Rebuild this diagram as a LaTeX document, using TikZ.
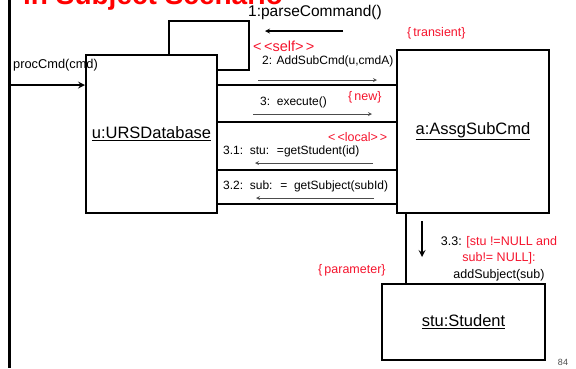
\documentclass[tikz,border=0pt]{standalone}
\usepackage{fontspec}
\setmainfont{Liberation Sans}
\usetikzlibrary{arrows, positioning}
\definecolor{notered}{RGB}{245,20,45}
\tikzstyle{object} = [rectangle, draw=black, line width=2pt, fill=white, inner sep=0pt, font=\fontsize{16.5}{18}\selectfont]
\tikzstyle{link} = [line width=2pt]
\tikzstyle{msg} = [->,>=stealth, draw=black!70, line width=0.8pt]
\tikzstyle{msgtext} = [anchor=west, inner sep=0pt, font=\fontsize{12}{14}\selectfont]
\tikzstyle{note} = [msgtext, text=notered, font=\fontsize{12.5}{14}\selectfont]

\begin{document}
\begin{tikzpicture}[x=1pt, y=-1pt]
    \useasboundingbox (0,0) rectangle (576,368);
    % slide title, cut off at the top
    \node (title) [anchor=base west, inner sep=0pt, text=red, font=\fontsize{28}{30}\bfseries\selectfont] at (23,4) {in Subject Scenario};

    \node (db) [object, minimum width=131pt, minimum height=158pt] at (151.5,134) {\underline{u:URSDatabase}};
    \node (cmd) [object, minimum width=152pt, minimum height=163pt] at (473,131.5) {\underline{a:AssgSubCmd}};
    \node (stu) [object, minimum width=163pt, minimum height=76pt] at (463.5,322) {\underline{stu:Student}};

    % frame of the interaction
    \coordinate (ftop) at (9,0);
    \coordinate (fbot) at (9,368);
    \coordinate (in) at (9,85);
    \draw [line width=3pt] (ftop) -- (fbot);
    \draw [link,->,>=stealth] (in) -- (db.west |- in);
    \node (proc) [msgtext, font=\fontsize{12.8}{15}\selectfont] at (13,65) {procCmd(cmd)};

    % links
    \coordinate (l1) at (0,85);
    \coordinate (l2) at (0,122);
    \coordinate (l3) at (0,170);
    \coordinate (l4) at (0,204);
    \coordinate (l5) at (406,0);
    \coordinate (selftop) at (249,21);
    \coordinate (selfbot) at (0,70);
    \draw [link] ([xshift=84pt]db.north west) |- (selftop) |- (db.east |- selfbot);
    \draw [link] (db.east |- l1) -- (cmd.west |- l1);
    \draw [link] (db.east |- l2) -- (cmd.west |- l2);
    \draw [link] (db.east |- l3) -- (cmd.west |- l3);
    \draw [link] (db.east |- l4) -- (cmd.west |- l4);
    \draw [link] (cmd.south -| l5) -- (stu.north -| l5);

    % messages
    \node (m1) [msgtext, font=\fontsize{15.5}{17}\selectfont] at (248,12) {1:parseCommand()};
    \node (m2) [msgtext] at (262,61.5) {2: AddSubCmd(u,cmdA)};
    \node (m3) [msgtext] at (260,102) {3:\ \ execute()};
    \node (m31) [msgtext] at (223,151) {3.1:\ \ stu: \ =getStudent(id)};
    \node (m32) [msgtext] at (223,186) {3.2:\ \ sub: \ =\ \ getSubject(subId)};
    \node (m33) [inner sep=0pt, align=center, font=\fontsize{12.5}{16.5}\selectfont] at (499,258.5)
        {3.3: \textcolor{notered}{[stu !=NULL and}\\ \textcolor{notered}{sub!= NULL]:}\\ addSubject(sub)};

    \coordinate (a1s) at (343,31);  \coordinate (a1e) at (265,31);
    \coordinate (a2s) at (258,80);  \coordinate (a2e) at (377,80);
    \coordinate (a3s) at (253,114); \coordinate (a3e) at (372,114);
    \coordinate (a31s) at (373,163); \coordinate (a31e) at (255,163);
    \coordinate (a32s) at (374,198); \coordinate (a32e) at (256,198);
    \coordinate (a33s) at (422,221); \coordinate (a33e) at (422,257);
    \draw [msg, draw=black, line width=1.2pt] (a1s) -- (a1e);
    \draw [msg] (a2s) -- (a2e);
    \draw [msg] (a3s) -- (a3e);
    \draw [msg] (a31s) -- (a31e);
    \draw [msg] (a32s) -- (a32e);
    \draw [msg, draw=black, line width=2pt] (a33s) -- (a33e);

    % constraints and stereotypes
    \node (self) [note, font=\fontsize{14.5}{16}\selectfont] at (253,46.5) {<\,<self>\,>};
    \node (trans) [note] at (407,33) {\{\,transient\}};
    \node (new) [note] at (348,97) {\{\,new\}};
    \node (local) [note] at (328,137) {<\,<local>\,>};
    \node (param) [note] at (318,270) {\{\,parameter\}};

    \node (page) [inner sep=0pt, text=black!70, font=\fontsize{9}{10}\selectfont] at (563,362) {84};
\end{tikzpicture}
\end{document}
